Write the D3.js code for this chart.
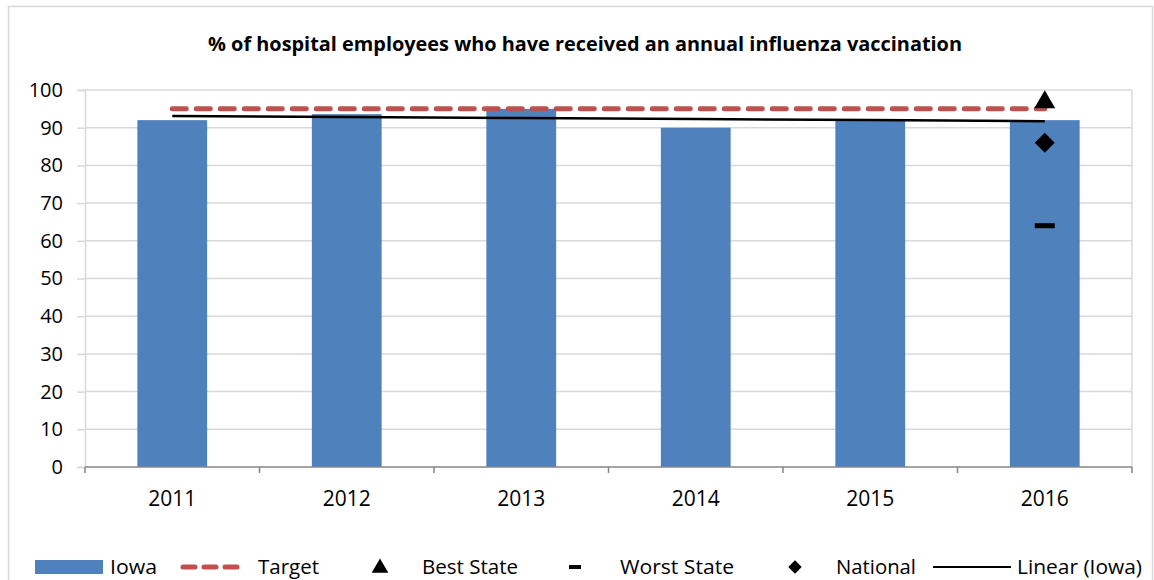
<!DOCTYPE html>
<html>
<head>
<meta charset="utf-8">
<script src="https://cdn.jsdelivr.net/npm/d3@7"></script>
<style>
    body { margin: 0; background: #fff; }
    text { font-family: "Open Sans", "Noto Sans", sans-serif; fill: #000; }
</style>
</head>
<body>
<div id="chart"></div>
<script>
// Chart data
const years = ['2011', '2012', '2013', '2014', '2015', '2016'];
const iowa = [92, 93.6, 95, 90, 92, 92];
const target = [95, 95, 95, 95, 95, 95];
const bestState = [{ year: '2016', value: 97 }];
const worstState = [{ year: '2016', value: 64 }];
const national = [{ year: '2016', value: 86 }];
const yTicks = [0, 10, 20, 30, 40, 50, 60, 70, 80, 90, 100];

const width = 1154;
const height = 580;
const margin = { top: 90, right: 22, bottom: 113, left: 85 };

const svg = d3.select('#chart')
    .append('svg')
    .attr('width', width)
    .attr('height', height);

// Outer chart border
svg.append('rect')
    .attr('x', 8.5)
    .attr('y', 6.5)
    .attr('width', width - 10)
    .attr('height', height)
    .attr('fill', 'none')
    .attr('stroke', '#d9d9d9')
    .attr('stroke-width', 1.5);

const x = d3.scaleBand()
    .domain(years)
    .range([margin.left, width - margin.right])
    .paddingInner(0.6)
    .paddingOuter(0.3);

const y = d3.scaleLinear()
    .domain([0, 100])
    .range([height - margin.bottom, margin.top]);

const cx = d => x(d) + x.bandwidth() / 2;

// Title
svg.append('text')
    .attr('x', 585)
    .attr('y', 51)
    .attr('text-anchor', 'middle')
    .attr('font-family', '"Liberation Sans Narrow", "Liberation Sans", sans-serif')
    .attr('font-weight', 'bold')
    .attr('font-size', 19)
    .attr('textLength', 754)
    .attr('lengthAdjust', 'spacingAndGlyphs')
    .text('% of hospital employees who have received an annual influenza vaccination');

// Gridlines
svg.append('g')
    .selectAll('line')
    .data(yTicks.filter(t => t > 0))
    .join('line')
    .attr('x1', margin.left)
    .attr('x2', width - margin.right)
    .attr('y1', d => y(d))
    .attr('y2', d => y(d))
    .attr('stroke', '#d9d9d9')
    .attr('stroke-width', 1.5);

// Right plot border
svg.append('line')
    .attr('x1', width - margin.right)
    .attr('x2', width - margin.right)
    .attr('y1', y(100))
    .attr('y2', y(0))
    .attr('stroke', '#d9d9d9')
    .attr('stroke-width', 1.5);

// Y axis
const yAxis = svg.append('g')
    .attr('transform', `translate(${margin.left},0)`)
    .call(d3.axisLeft(y).tickValues(yTicks).tickSize(8).tickPadding(14));
yAxis.selectAll('path, line').attr('stroke', '#d9d9d9').attr('stroke-width', 1.5);
yAxis.selectAll('text').attr('font-size', 20).attr('font-family', '"Open Sans", sans-serif');

// Bars
svg.append('g')
    .selectAll('rect')
    .data(years)
    .join('rect')
    .attr('x', d => x(d))
    .attr('y', (d, i) => y(iowa[i]))
    .attr('width', x.bandwidth())
    .attr('height', (d, i) => y(0) - y(iowa[i]))
    .attr('fill', '#4f81bd');

// X axis
const step = x.step();
const xAxis = svg.append('g')
    .attr('transform', `translate(0,${y(0)})`);
xAxis.append('line')
    .attr('x1', margin.left)
    .attr('x2', width - margin.right)
    .attr('stroke', '#868686')
    .attr('stroke-width', 1.5);
xAxis.selectAll('.tick')
    .data(d3.range(years.length + 1))
    .join('line')
    .attr('x1', i => margin.left + i * step)
    .attr('x2', i => margin.left + i * step)
    .attr('y1', 0)
    .attr('y2', 6)
    .attr('stroke', '#868686')
    .attr('stroke-width', 1.5);
xAxis.selectAll('text')
    .data(years)
    .join('text')
    .attr('x', d => cx(d))
    .attr('y', 39)
    .attr('text-anchor', 'middle')
    .attr('font-size', 21)
    .text(d => d);

// Target dashed line
svg.append('path')
    .datum(years)
    .attr('d', d3.line().x(d => cx(d)).y((d, i) => y(target[i])))
    .attr('fill', 'none')
    .attr('stroke', '#c0504d')
    .attr('stroke-width', 5)
    .attr('stroke-dasharray', '14 10')
    .attr('stroke-linecap', 'round');

// Linear trend for Iowa
const n = iowa.length;
const mx = d3.mean(d3.range(n));
const my = d3.mean(iowa);
const slope = d3.sum(d3.range(n), i => (i - mx) * (iowa[i] - my)) / d3.sum(d3.range(n), i => (i - mx) ** 2);
const trend = years.map((d, i) => my + slope * (i - mx));
svg.append('path')
    .datum(years)
    .attr('d', d3.line().x(d => cx(d)).y((d, i) => y(trend[i])))
    .attr('fill', 'none')
    .attr('stroke', '#000')
    .attr('stroke-width', 2.5);

// Point markers
svg.append('g')
    .selectAll('path')
    .data(bestState)
    .join('path')
    .attr('d', d3.symbol(d3.symbolTriangle, 190))
    .attr('transform', d => `translate(${cx(d.year)},${y(d.value) + 1})`)
    .attr('fill', '#000');

svg.append('g')
    .selectAll('path')
    .data(national)
    .join('path')
    .attr('d', d3.symbol(d3.symbolSquare, 200))
    .attr('transform', d => `translate(${cx(d.year)},${y(d.value)}) rotate(45)`)
    .attr('fill', '#000');

svg.append('g')
    .selectAll('rect')
    .data(worstState)
    .join('rect')
    .attr('x', d => cx(d.year) - 10)
    .attr('y', d => y(d.value) - 2.5)
    .attr('width', 20)
    .attr('height', 5)
    .attr('fill', '#000');

// Legend
const legend = svg.append('g').attr('transform', 'translate(0,567)');
const legendText = (lx, label, len) => legend.append('text')
    .attr('x', lx)
    .attr('y', 7)
    .attr('font-size', 20)
    .attr('textLength', len)
    .attr('lengthAdjust', 'spacingAndGlyphs')
    .text(label);

legend.append('rect').attr('x', 35).attr('y', -7).attr('width', 68).attr('height', 14).attr('fill', '#4f81bd');
legendText(110, 'Iowa', 47);

legend.append('line')
    .attr('x1', 183).attr('x2', 243).attr('y1', 0).attr('y2', 0)
    .attr('stroke', '#c0504d').attr('stroke-width', 5)
    .attr('stroke-dasharray', '12 9').attr('stroke-linecap', 'round');
legendText(258, 'Target', 61);

legend.append('path')
    .attr('d', d3.symbol(d3.symbolTriangle, 120))
    .attr('transform', 'translate(380,1)')
    .attr('fill', '#000');
legendText(422, 'Best State', 96);

legend.append('rect').attr('x', 569).attr('y', -2).attr('width', 12).attr('height', 4).attr('fill', '#000');
legendText(620, 'Worst State', 114);

legend.append('path')
    .attr('d', d3.symbol(d3.symbolSquare, 90))
    .attr('transform', 'translate(795,0) rotate(45)')
    .attr('fill', '#000');
legendText(836, 'National', 80);

legend.append('line')
    .attr('x1', 933).attr('x2', 1011).attr('y1', 0).attr('y2', 0)
    .attr('stroke', '#000').attr('stroke-width', 2);
legendText(1017, 'Linear (Iowa)', 125);
</script>
</body>
</html>
